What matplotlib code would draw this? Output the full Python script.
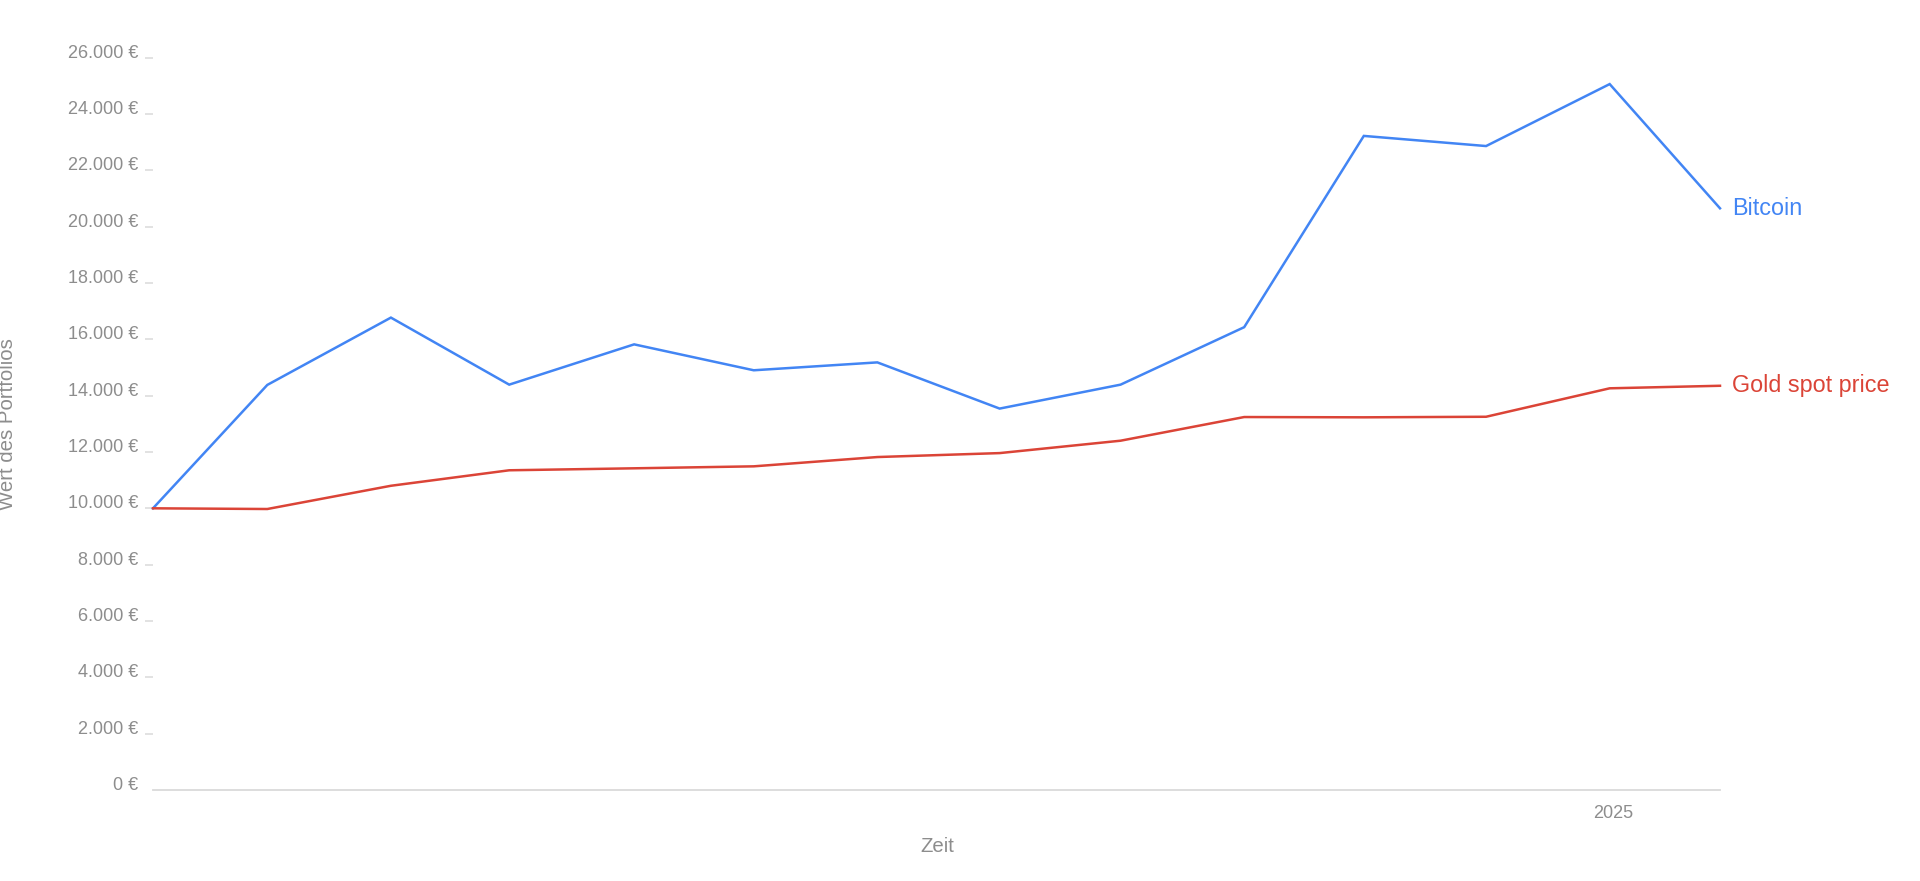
import numpy as np
import matplotlib
matplotlib.use('Agg')
import matplotlib.pyplot as plt
import matplotlib.dates as mdates

plt.rcParams['font.family'] = ['Liberation Sans', 'DejaVu Sans']

# Quarterly snapshots
dates = np.array([
    "2021-12-29", "2022-03-25", "2022-06-26", "2022-09-23", "2022-12-26",
    "2023-03-26", "2023-06-27", "2023-09-27", "2023-12-27", "2024-03-29",
    "2024-06-27", "2024-09-27", "2024-12-29", "2025-03-22",
], dtype='datetime64[D]')

bitcoin = [10000, 14380, 16770, 14390, 15820, 14900, 15180,
           13540, 14390, 16430, 23220, 22860, 25060, 20650]
gold = [10000, 9975, 10800, 11350, 11420, 11490, 11820,
        11960, 12400, 13240, 13230, 13250, 14260, 14350]

series_names = ["Bitcoin", "Gold spot price"]
y_ticks = list(range(0, 26001, 2000))
x_tick_dates = np.array(["2025-01-01"], dtype='datetime64[D]')
x_tick_labels = ["2025"]

BLUE = '#4285f4'
RED = '#db4437'
GREY_TXT = '#8d8d8d'
GREY_LINE = '#dadada'

fig = plt.figure(figsize=(19.2, 8.81), dpi=100)
fig.patch.set_facecolor('white')
ax = fig.add_axes([153 / 1920, 1 - 790 / 881, (1720 - 153) / 1920, (790 - 57.6) / 881])

ax.plot(dates, bitcoin, color=BLUE, lw=1.8, solid_joinstyle='miter', clip_on=False)
ax.plot(dates, gold, color=RED, lw=1.8, solid_joinstyle='miter', clip_on=False)

# labels at the line ends
for vals, name, col in [(bitcoin, series_names[0], BLUE), (gold, series_names[1], RED)]:
    ax.annotate(name, xy=(dates[-1], vals[-1]), xytext=(8.5, 0), textcoords='offset points',
                ha='left', va='center', fontsize=16.8, color=col, annotation_clip=False)

ax.set_xlim(dates[0], dates[-1])
ax.set_ylim(0, 26000)

ax.set_yticks(y_ticks)
ax.set_yticklabels([f"{v:,}".replace(",", ".") + " €" for v in y_ticks])
ax.tick_params(axis='y', length=5.8, width=1.1, color=GREY_LINE, pad=5.0,
               labelsize=13, labelcolor=GREY_TXT)
for lbl in ax.get_yticklabels():
    lbl.set_verticalalignment('baseline')
ax.yaxis.get_major_ticks()[0].tick1line.set_visible(False)

ax.set_xticks(mdates.date2num(x_tick_dates))
ax.set_xticklabels(x_tick_labels)
ax.tick_params(axis='x', length=0, pad=10.5, labelsize=13, labelcolor=GREY_TXT)

for s in ['top', 'right', 'left']:
    ax.spines[s].set_visible(False)
ax.spines['bottom'].set_color(GREY_LINE)
ax.spines['bottom'].set_linewidth(1.3)

fig.text(937 / 1920, 1 - 846 / 881, "Zeit", ha='center', va='center',
         fontsize=14.7, color=GREY_TXT)
fig.text(8 / 1920, 1 - 424 / 881, "Wert des Portfolios", ha='center', va='center',
         rotation=90, fontsize=14.7, color=GREY_TXT)

fig.savefig('out.png', dpi=100, facecolor='white')
